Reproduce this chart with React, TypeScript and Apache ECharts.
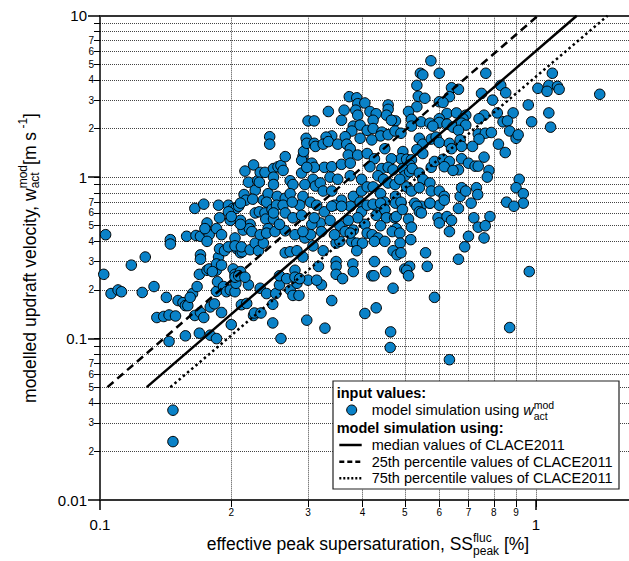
import React, { useEffect, useRef } from "react";
import * as echarts from "echarts";

// ---------------- data ----------------
const X_MIN = 0.1;
const X_MAX = 1.634;
const Y_MIN = 0.01;
const Y_MAX = 10;

const xGridValues = [0.2, 0.3, 0.4, 0.5, 0.6, 0.7, 0.8, 0.9, 1];
const xMinorLabelValues = [0.2, 0.3, 0.4, 0.5, 0.6, 0.7, 0.8, 0.9];
const xMajorValues = [0.1, 1];

const yGridValues = [
  0.02, 0.03, 0.04, 0.05, 0.06, 0.07, 0.08, 0.09, 0.1,
  0.2, 0.3, 0.4, 0.5, 0.6, 0.7, 0.8, 0.9, 1,
  2, 3, 4, 5, 6, 7, 8, 9,
];
const yMinorLabelValues = [
  0.02, 0.03, 0.04, 0.05, 0.06, 0.07,
  0.2, 0.3, 0.4, 0.5, 0.6, 0.7,
  2, 3, 4, 5, 6, 7,
];
const yMajorValues = [0.01, 0.1, 1, 10];

// model curves (effective peak supersaturation [%], updraft velocity [m/s])
const medianLine: [number, number][] = [[0.128, 0.05], [1.24, 10]];
const p25Line: [number, number][] = [[0.104, 0.05], [1.01, 10]];
const p75Line: [number, number][] = [[0.145, 0.05], [1.46, 10]];

// model simulation points [SS_peak (%), w_act (m/s)]
const simulationPoints: [number, number][] = [
  [0.103,0.44],[0.102,0.25],[0.118,0.285],[0.127,0.32],[0.145,0.41],[0.145,0.385],[0.158,0.43],[0.165,0.64],
  [0.173,0.68],[0.166,0.435],[0.17,0.43],[0.176,0.52],[0.175,0.47],[0.178,0.44],[0.176,0.40],[0.17,0.33],
  [0.17,0.31],[0.169,0.25],[0.176,0.265],[0.185,0.28],[0.187,0.32],[0.188,0.36],[0.185,0.48],[0.188,0.56],
  [0.187,0.67],[0.199,0.6],[0.199,0.54],[0.197,0.67],[0.202,0.64],[0.205,0.64],[0.204,0.42],[0.206,0.36],
  [0.202,0.27],[0.21,0.34],[0.212,0.345],[0.215,1.09],[0.219,0.93],[0.21,0.54],[0.214,0.78],[0.216,0.72],
  [0.213,0.47],[0.221,0.51],[0.22,0.48],[0.225,1.19],[0.227,0.83],[0.224,0.73],[0.227,0.6],[0.23,0.95],
  [0.233,1.07],[0.239,1.07],[0.232,0.61],[0.237,0.72],[0.243,0.79],[0.241,0.7],[0.239,0.6],[0.24,0.55],
  [0.243,0.48],[0.245,1.78],[0.245,1.6],[0.25,1.13],[0.25,1.0],[0.25,0.9],[0.255,0.76],[0.256,1.16],
  [0.26,1.18],[0.263,1.1],[0.266,1.34],[0.266,0.74],[0.273,0.95],[0.277,0.9],[0.29,1.06],[0.292,1.34],
  [0.29,1.27],[0.293,1.44],[0.297,1.74],[0.298,1.62],[0.3,2.23],[0.31,2.23],[0.31,1.62],[0.312,1.55],
  [0.306,1.22],[0.308,0.97],[0.295,0.9],[0.312,0.88],[0.232,0.93],[0.208,0.66],
  [0.106,0.19],[0.11,0.2],[0.112,0.195],[0.125,0.193],[0.133,0.21],[0.142,0.18],[0.135,0.135],[0.14,0.137],
  [0.144,0.14],[0.149,0.138],[0.144,0.096],[0.147,0.036],[0.147,0.023],[0.151,0.172],[0.155,0.167],[0.157,0.16],
  [0.159,0.16],[0.163,0.19],[0.161,0.18],[0.167,0.21],[0.165,0.139],[0.17,0.145],[0.173,0.135],[0.169,0.108],
  [0.157,0.104],[0.179,0.105],[0.185,0.1],[0.179,0.157],[0.183,0.164],[0.185,0.196],[0.186,0.225],[0.192,0.21],
  [0.195,0.195],[0.199,0.2],[0.19,0.145],[0.2,0.122],[0.204,0.195],[0.205,0.22],[0.211,0.162],[0.217,0.165],
  [0.219,0.215],[0.225,0.139],[0.226,0.144],[0.234,0.144],[0.233,0.205],[0.241,0.19],[0.249,0.163],[0.249,0.125],
  [0.253,0.19],[0.258,0.215],[0.26,0.1],[0.273,0.2],[0.277,0.185],[0.283,0.22],[0.286,0.185],[0.298,0.13],[0.3,0.23],
  [0.174,0.48],[0.19,0.44],[0.197,0.61],[0.2,0.57],[0.21,0.51],[0.21,0.69],[0.193,0.35],[0.197,0.37],
  [0.204,0.375],[0.211,0.37],[0.221,0.355],[0.227,0.39],[0.231,0.35],[0.237,0.39],[0.223,0.46],[0.233,0.44],
  [0.241,0.45],[0.178,0.27],[0.185,0.265],[0.204,0.25],[0.204,0.24],[0.21,0.26],[0.208,0.245],[0.215,0.24],
  [0.185,0.29],[0.19,0.285],[0.181,0.26],
  [0.373,3.15],[0.388,3.1],[0.39,2.85],[0.405,2.88],[0.386,2.6],[0.363,2.6],[0.334,2.55],[0.358,2.25],
  [0.39,2.42],[0.381,2.07],[0.395,2.1],[0.378,1.93],[0.41,1.95],[0.34,1.8],[0.33,1.77],[0.365,1.78],
  [0.395,1.74],[0.325,1.6],[0.334,1.66],[0.351,1.6],[0.368,1.6],[0.375,1.5],[0.371,1.37],[0.39,1.37],
  [0.41,1.4],[0.327,1.15],[0.34,1.16],[0.358,1.2],[0.375,1.22],[0.337,1.0],[0.351,0.97],[0.375,1.02],
  [0.398,0.97],[0.32,0.92],[0.325,0.82],[0.34,0.82],[0.358,0.72],[0.381,0.76],[0.398,0.82],[0.41,0.87],
  [0.395,0.7],[0.345,0.67],[0.375,0.66],[0.31,1.15],[0.292,0.76],[0.273,0.79],[0.298,1.15],
  [0.327,0.61],[0.34,0.66],[0.358,0.66],[0.398,0.61],[0.41,0.67],[0.32,0.52],[0.337,0.54],[0.355,0.5],
  [0.365,0.46],[0.381,0.47],[0.405,0.51],[0.39,0.56],[0.325,0.35],[0.348,0.39],[0.355,0.4],[0.378,0.4],
  [0.388,0.39],[0.4,0.39],[0.388,0.35],[0.317,0.28],[0.348,0.3],[0.348,0.28],[0.348,0.25],[0.38,0.29],
  [0.381,0.26],[0.36,0.235],[0.322,0.215],[0.34,0.172],[0.405,0.143],[0.328,0.116],
  [0.248,0.63],[0.254,0.67],[0.263,0.67],[0.287,0.67],[0.276,0.7],[0.304,0.7],[0.314,0.67],[0.25,0.55],
  [0.266,0.6],[0.277,0.56],[0.29,0.58],[0.306,0.51],[0.252,0.46],[0.266,0.465],[0.28,0.44],[0.295,0.42],
  [0.304,0.44],[0.308,0.375],[0.266,0.34],[0.273,0.345],[0.283,0.35],[0.292,0.32],[0.258,0.245],[0.268,0.235],
  [0.28,0.265],[0.28,0.24],[0.287,0.235],[0.314,0.23],
  [0.25,0.6],[0.258,0.51],[0.292,0.46],[0.31,0.56],[0.322,0.46],[0.345,0.44],[0.371,0.54],[0.41,0.45],[0.375,0.45],
  [0.574,5.26],[0.543,4.4],[0.55,4.3],[0.6,4.4],[0.533,3.7],[0.64,3.58],[0.664,3.5],[0.537,3.17],
  [0.556,3.08],[0.633,3.15],[0.6,2.93],[0.612,2.9],[0.458,2.8],[0.458,2.63],[0.533,2.73],[0.51,2.55],
  [0.416,2.55],[0.43,2.47],[0.454,2.42],[0.423,2.25],[0.476,2.23],[0.466,2.25],[0.518,2.28],[0.518,2.07],
  [0.545,2.2],[0.571,2.16],[0.625,2.48],[0.657,2.5],[0.69,2.42],[0.6,2.3],[0.6,2.18],[0.58,2.07],
  [0.625,2.13],[0.645,2.04],[0.68,2.3],[0.675,2.16],[0.69,2.1],[0.664,1.95],[0.423,2.0],[0.443,1.9],
  [0.44,1.8],[0.458,1.83],[0.475,1.93],[0.49,1.87],[0.42,1.7],[0.45,1.5],[0.54,1.74],[0.55,1.6],
  [0.575,1.72],[0.59,1.77],[0.6,1.64],[0.633,1.62],[0.64,1.5],[0.67,1.7],[0.675,1.55],[0.533,1.48],
  [0.55,1.4],[0.426,1.3],[0.495,1.44],[0.49,1.3],[0.505,1.29],[0.518,1.28],[0.513,1.19],[0.466,1.3],
  [0.443,1.13],[0.434,1.02],[0.458,1.15],[0.47,1.11],[0.495,1.13],[0.5,1.02],[0.513,1.08],[0.52,1.13],
  [0.54,1.06],[0.55,0.97],[0.575,1.15],[0.585,1.25],[0.612,1.29],[0.633,1.25],[0.616,1.16],[0.664,1.11],
  [0.645,1.1],[0.675,1.3],[0.7,1.22],[0.416,1.16],[0.447,0.97],[0.458,0.92],[0.475,0.9],[0.487,0.97],
  [0.505,0.87],[0.518,0.82],[0.54,0.86],[0.571,0.92],[0.575,0.82],[0.6,0.82],[0.616,0.76],[0.67,0.76],
  [0.44,0.79],[0.476,0.76],[0.49,0.69],[0.527,0.69],[0.545,0.66],[0.571,0.69],[0.6,0.67],[0.675,0.86],
  [0.69,0.82],[0.423,0.87],[0.43,0.66],[0.45,0.7],
  [0.423,0.68],[0.44,0.69],[0.476,0.69],[0.49,0.7],[0.533,0.66],[0.571,0.69],[0.616,0.72],[0.664,0.64],
  [0.43,0.58],[0.45,0.63],[0.454,0.56],[0.474,0.56],[0.478,0.57],[0.494,0.63],[0.51,0.55],[0.54,0.61],
  [0.546,0.6],[0.596,0.56],[0.6,0.52],[0.625,0.57],[0.64,0.54],[0.44,0.5],[0.478,0.48],[0.468,0.46],
  [0.487,0.45],[0.518,0.49],[0.633,0.46],[0.7,0.43],[0.421,0.44],[0.434,0.42],[0.426,0.4],[0.45,0.4],
  [0.488,0.39],[0.516,0.41],[0.686,0.37],[0.47,0.35],[0.48,0.33],[0.49,0.34],[0.558,0.34],[0.563,0.28],
  [0.664,0.31],[0.426,0.3],[0.452,0.26],[0.42,0.245],[0.425,0.245],[0.5,0.27],[0.513,0.28],[0.505,0.265],
  [0.51,0.245],[0.47,0.205],[0.585,0.18],[0.43,0.155],[0.464,0.11],[0.463,0.088],[0.633,0.074],
  [0.767,4.4],[1.09,4.4],[0.83,3.7],[0.852,3.33],[0.75,3.3],[0.795,3.0],[1.01,3.55],[1.07,3.7],
  [1.06,3.4],[1.12,3.65],[1.13,3.5],[0.96,2.8],[1.07,2.5],[1.08,2.04],[0.977,2.2],[0.886,2.5],
  [0.815,2.5],[0.76,2.42],[0.74,2.3],[0.84,2.2],[0.86,2.23],[0.737,1.85],[0.765,1.87],[0.79,1.89],
  [0.74,1.72],[0.87,1.93],[0.9,1.74],[0.91,1.83],[0.715,1.55],[0.82,1.6],[0.85,1.42],[0.76,1.33],
  [0.725,1.17],[0.737,1.17],[0.78,1.1],[0.773,1.0],[0.915,0.97],[0.9,0.86],[0.73,0.86],[0.735,0.78],
  [0.935,0.79],[0.856,0.7],[0.935,0.69],[0.89,0.66],[0.71,0.69],
  [0.784,0.57],[0.72,0.56],[0.737,0.49],[0.765,0.5],[0.76,0.42],[0.965,0.26],[0.87,0.117],[1.4,3.26],
];

// ---------------- helpers ----------------
const FONT_FAMILY = '"Liberation Sans", Arial, Helvetica, sans-serif';
const fontStr = (size: number, extra = "") => `${extra} ${size}px ${FONT_FAMILY}`.trim();

let measureCtx: CanvasRenderingContext2D | null = null;
function textWidth(text: string, font: string): number {
  if (!measureCtx) measureCtx = document.createElement("canvas").getContext("2d");
  if (!measureCtx) return text.length * 8;
  measureCtx.font = font;
  return measureCtx.measureText(text).width;
}

type Simple = { text: string; size: number; extra?: string; dv?: number };
type Piece = Simple | { stack: Simple[] };

function compose(pieces: Piece[], ax: number, ay: number, align: "left" | "center", rotate: boolean, z = 50) {
  const widths = pieces.map((p) =>
    "stack" in p
      ? Math.max(...p.stack.map((s) => textWidth(s.text, fontStr(s.size, s.extra))))
      : textWidth(p.text, fontStr(p.size, p.extra))
  );
  const total = widths.reduce((a, b) => a + b, 0);
  let u = align === "center" ? -total / 2 : 0;
  const els: any[] = [];
  const mk = (s: Simple, uu: number) => {
    const dv = s.dv || 0;
    return {
      type: "text",
      z,
      x: rotate ? ax + dv : ax + uu,
      y: rotate ? ay - uu : ay + dv,
      rotation: rotate ? Math.PI / 2 : 0,
      style: {
        text: s.text,
        font: fontStr(s.size, s.extra),
        fill: "#000",
        textAlign: "left",
        textVerticalAlign: "middle",
      },
    };
  };
  pieces.forEach((p, i) => {
    if ("stack" in p) p.stack.forEach((s) => els.push(mk(s, u)));
    else els.push(mk(p, u));
    u += widths[i];
  });
  return els;
}

const lg = Math.log10;
const leadingDigit = (v: number) => {
  const e = Math.floor(v + 1e-9);
  return String(Math.round(Math.pow(10, v - e)));
};
const majorText = (v: number) => String(Number(Math.pow(10, Math.round(v)).toPrecision(1)));

export default function App() {
  const ref = useRef<HTMLDivElement>(null);

  useEffect(() => {
    document.body.style.margin = "0";
    if (!ref.current) return;
    const chart = echarts.init(ref.current, undefined, { renderer: "svg" });

    const lx0 = lg(X_MIN), lx1 = lg(X_MAX), ly0 = lg(Y_MIN), ly1 = lg(Y_MAX);
    const gridColor = "#444";

    const legendX = 333, legendY = 381, legendW = 286, legendH = 108;
    const legFont = 14.5;
    const textX = 371.7;
    const rows = [392.7, 410, 427.7, 445, 461.7, 478.3];

    const graphic: any[] = [
      // axis titles
      ...compose(
        [
          { text: "effective peak supersaturation, SS", size: 17.5 },
          { stack: [{ text: "fluc", size: 12, dv: -6 }, { text: "peak", size: 12, dv: 7 }] },
          { text: " [%]", size: 17.5 },
        ],
        368, 544, "center", false
      ),
      ...compose(
        [
          { text: "modelled updraft velocity, w", size: 17.5 },
          { stack: [{ text: "mod", size: 12, dv: -7 }, { text: "act", size: 12, dv: 5 }] },
          { text: "[m s", size: 17.5 },
          { text: " -1", size: 12, dv: -7 },
          { text: "]", size: 17.5 },
        ],
        29.5, 258, "center", true
      ),
      // legend box
      {
        type: "rect",
        z: 90,
        shape: { x: legendX, y: legendY, width: legendW, height: legendH },
        style: { fill: "#fff", stroke: "#222", lineWidth: 1.2 },
      },
      {
        type: "text", z: 100, x: 336.7, y: rows[0],
        style: { text: "input values:", font: fontStr(legFont, "bold"), fill: "#000", textVerticalAlign: "middle" },
      },
      {
        type: "circle", z: 100,
        shape: { cx: 351.7, cy: rows[1], r: 5 },
        style: { fill: "#0a82c8", stroke: "#000", lineWidth: 1 },
      },
      ...compose(
        [
          { text: "model simulation using ", size: legFont },
          { text: "w", size: legFont, extra: "italic" },
          { stack: [{ text: "mod", size: 10.5, dv: -5.5 }, { text: "act", size: 10.5, dv: 5.5 }] },
        ],
        textX, rows[1], "left", false, 100
      ),
      {
        type: "text", z: 100, x: 336.7, y: rows[2],
        style: { text: "model simulation using:", font: fontStr(legFont, "bold"), fill: "#000", textVerticalAlign: "middle" },
      },
      {
        type: "line", z: 100,
        shape: { x1: 339.3, y1: rows[3], x2: 361.7, y2: rows[3] },
        style: { stroke: "#000", lineWidth: 2.5 },
      },
      {
        type: "line", z: 100,
        shape: { x1: 339.3, y1: rows[4], x2: 361.7, y2: rows[4] },
        style: { stroke: "#000", lineWidth: 2.5, lineDash: [5, 3] },
      },
      {
        type: "line", z: 100,
        shape: { x1: 339.3, y1: rows[5], x2: 361.7, y2: rows[5] },
        style: { stroke: "#000", lineWidth: 2.5, lineDash: [2, 2] },
      },
      ...["median values of CLACE2011", "25th percentile values of CLACE2011", "75th percentile values of CLACE2011"].map(
        (t, i) => ({
          type: "text", z: 100, x: textX, y: rows[3 + i],
          style: { text: t, font: fontStr(legFont), fill: "#000", textVerticalAlign: "middle" },
        })
      ),
    ];

    const option: any = {
      animation: false,
      textStyle: { fontFamily: FONT_FAMILY },
      grid: { left: 100, right: 0, top: 15.7, bottom: 61, containLabel: false, outerBoundsMode: "none" },
      xAxis: [
        { type: "log", logBase: 10, min: X_MIN, max: X_MAX, show: false },
        {
          type: "value", min: lx0, max: lx1, position: "bottom",
          axisLine: { show: false, onZero: false },
          axisTick: { show: true, customValues: xGridValues.map(lg), length: 7, lineStyle: { color: "#000", width: 1 } },
          axisLabel: { customValues: xMinorLabelValues.map(lg), formatter: (v: number) => leadingDigit(v), fontSize: 10, margin: 7, color: "#000", fontFamily: FONT_FAMILY },
          splitLine: { show: true, lineStyle: { color: gridColor, type: [1, 1], width: 1 } },
        },
        {
          type: "value", min: lx0, max: lx1, position: "bottom",
          axisLine: { show: true, onZero: false, lineStyle: { color: "#333", width: 2 } },
          axisTick: { show: true, customValues: xMajorValues.map(lg), length: 10, lineStyle: { color: "#000", width: 1.5 } },
          axisLabel: { customValues: xMajorValues.map(lg), formatter: (v: number) => majorText(v), fontSize: 15, margin: 17, color: "#000", fontFamily: FONT_FAMILY },
          splitLine: { show: false },
        },
        {
          type: "value", min: lx0, max: lx1, position: "top",
          axisLine: { show: true, onZero: false, lineStyle: { color: "#333", width: 2 } },
          axisTick: { show: false }, axisLabel: { show: false }, splitLine: { show: false },
        },
      ],
      yAxis: [
        { type: "log", logBase: 10, min: Y_MIN, max: Y_MAX, show: false },
        {
          type: "value", min: ly0, max: ly1, position: "left",
          axisLine: { show: false, onZero: false },
          axisTick: { show: true, customValues: yGridValues.map(lg), length: 6, lineStyle: { color: "#000", width: 1 } },
          axisLabel: { customValues: yMinorLabelValues.map(lg), formatter: (v: number) => leadingDigit(v), fontSize: 10, margin: 6, color: "#000", fontFamily: FONT_FAMILY },
          splitLine: { show: true, lineStyle: { color: gridColor, type: [1, 1], width: 1 } },
        },
        {
          type: "value", min: ly0, max: ly1, position: "left",
          axisLine: { show: true, onZero: false, lineStyle: { color: "#000", width: 1.5 } },
          axisTick: { show: true, customValues: yMajorValues.map(lg), length: 12, lineStyle: { color: "#000", width: 1.5 } },
          axisLabel: { customValues: yMajorValues.map(lg), formatter: (v: number) => majorText(v), fontSize: 15, margin: 13, color: "#000", fontFamily: FONT_FAMILY },
          splitLine: { show: false },
        },
      ],
      series: [
        {
          name: "model simulation",
          type: "scatter",
          xAxisIndex: 0, yAxisIndex: 0,
          data: simulationPoints,
          symbol: "circle",
          symbolSize: 10.5,
          itemStyle: { color: "#0a82c8", borderColor: "#000", borderWidth: 1, opacity: 1 },
          z: 2,
        },
        {
          name: "median values of CLACE2011", type: "line", xAxisIndex: 0, yAxisIndex: 0,
          data: medianLine, symbol: "none", lineStyle: { color: "#000", width: 2.5, type: "solid" }, z: 4,
        },
        {
          name: "25th percentile values of CLACE2011", type: "line", xAxisIndex: 0, yAxisIndex: 0,
          data: p25Line, symbol: "none", lineStyle: { color: "#000", width: 2.5, type: [8, 5] }, z: 4,
        },
        {
          name: "75th percentile values of CLACE2011", type: "line", xAxisIndex: 0, yAxisIndex: 0,
          data: p75Line, symbol: "none", lineStyle: { color: "#000", width: 2.5, type: [2.5, 3] }, z: 4,
        },
      ],
      graphic,
    };

    chart.setOption(option);
    return () => chart.dispose();
  }, []);

  return (
    <div
      ref={ref}
      style={{ position: "absolute", left: 0, top: 0, width: 629, height: 561, background: "#fff" }}
    />
  );
}
